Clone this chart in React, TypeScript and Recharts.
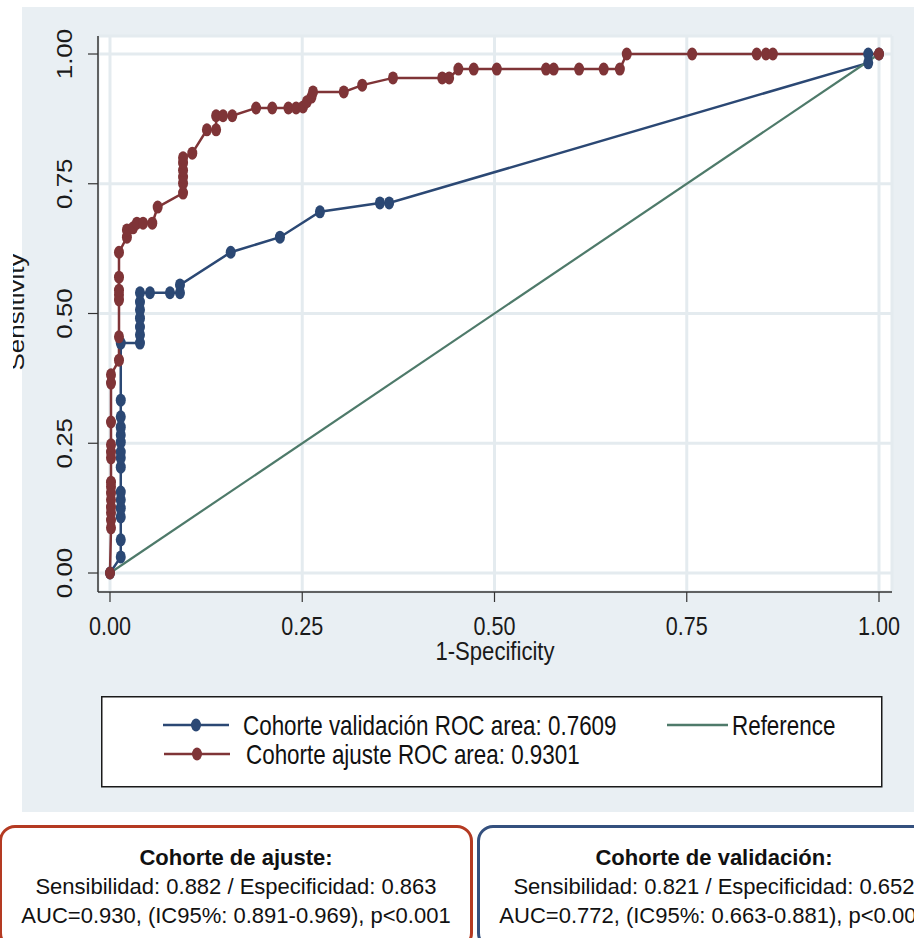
import React from 'react';
import { LineChart, Line, XAxis, YAxis, CartesianGrid, Legend } from 'recharts';

const FONT = '"Liberation Sans", Arial, Helvetica, sans-serif';
const SQUEEZE = 0.83;
const BLUE = '#2b4874';
const RED = '#7f3437';
const GREEN = '#4e7a6a';
const PANEL = '#e9eff3';
const GRID = '#e4ebef';

// ---- data (1-specificity, sensitivity) ----
const validationFpr = [
  0,
  0.014, 0.014, 0.014, 0.014, 0.014, 0.014, 0.014, 0.014, 0.014, 0.014, 0.014, 0.014, 0.014, 0.014, 0.014,
  0.039, 0.039, 0.039, 0.039, 0.039, 0.039, 0.039,
  0.052, 0.078, 0.091, 0.091,
  0.157, 0.221, 0.273, 0.351, 0.363,
  0.986, 0.986, 1,
];
const validationSens = [
  0,
  0.031, 0.064, 0.108, 0.125, 0.141, 0.156, 0.204, 0.222, 0.233, 0.252, 0.266, 0.281, 0.301, 0.333, 0.443,
  0.443, 0.459, 0.474, 0.491, 0.507, 0.522, 0.54,
  0.54, 0.54, 0.54, 0.555,
  0.618, 0.647, 0.696, 0.713, 0.713,
  0.983, 1, 1,
];

const adjustFpr = [
  0,
  0.0013, 0.0013, 0.0013, 0.0013, 0.0013, 0.0013, 0.0013, 0.0013, 0.0013, 0.0013, 0.0013, 0.0013, 0.0013, 0.0013,
  0.0117, 0.0117, 0.0117, 0.0117, 0.0117, 0.0117, 0.0117,
  0.022, 0.022, 0.03, 0.035, 0.043, 0.055, 0.062,
  0.095, 0.095, 0.095, 0.095, 0.095, 0.095,
  0.107, 0.126, 0.138, 0.138, 0.147, 0.159,
  0.19, 0.211, 0.232, 0.242,
  0.251, 0.256, 0.262, 0.264,
  0.304, 0.328,
  0.368, 0.432, 0.441,
  0.453, 0.473, 0.503, 0.567, 0.577, 0.61, 0.642, 0.663,
  0.672, 0.757, 0.841, 0.853, 0.862,
  1,
];
const adjustSens = [
  0,
  0.087, 0.102, 0.116, 0.127, 0.141, 0.154, 0.166, 0.175, 0.222, 0.233, 0.247, 0.291, 0.366, 0.382,
  0.41, 0.455, 0.526, 0.536, 0.545, 0.57, 0.618,
  0.647, 0.661, 0.665, 0.674, 0.674, 0.674, 0.705,
  0.732, 0.751, 0.763, 0.776, 0.79, 0.8,
  0.809, 0.854, 0.854, 0.881, 0.881, 0.881,
  0.896, 0.896, 0.896, 0.896,
  0.898, 0.908, 0.917, 0.927,
  0.927, 0.94,
  0.954, 0.954, 0.954,
  0.971, 0.971, 0.971, 0.971, 0.971, 0.971, 0.971, 0.971,
  1, 1, 1, 1, 1,
  1,
];

const referenceFpr = [0, 1];
const referenceSens = [0, 1];

const xTicks = [0, 0.25, 0.5, 0.75, 1];
const yTicks = [0, 0.25, 0.5, 0.75, 1];
const xDomain = [-0.0156, 1.0169];
const yDomain = [-0.0366, 1.0347];

const seriesNames = [
  'Cohorte validación ROC area: 0.7609',
  'Cohorte ajuste ROC area: 0.9301',
  'Reference',
];

const adjustBoxLines = [
  'Cohorte de ajuste:',
  'Sensibilidad: 0.882 / Especificidad: 0.863',
  'AUC=0.930, (IC95%: 0.891-0.969), p<0.001',
];
const validationBoxLines = [
  'Cohorte de validación:',
  'Sensibilidad: 0.821 / Especificidad: 0.652',
  'AUC=0.772, (IC95%: 0.663-0.881), p<0.001',
];

const toPoints = (xs: number[], ys: number[]) => xs.map((x, i) => ({ x, y: ys[i] }));
const validationData = toPoints(validationFpr, validationSens);
const adjustData = toPoints(adjustFpr, adjustSens);
const referenceData = toPoints(referenceFpr, referenceSens);

const makeDot = (color: string) => (props: any) => {
  const { cx, cy, index } = props;
  if (cx == null || cy == null) return <g key={`n${index}`} />;
  return <ellipse key={`d${index}`} cx={cx} cy={cy} rx={5} ry={6.5} fill={color} />;
};

const XTick = (props: any) => {
  const { x, y, payload } = props;
  return (
    <text
      transform={`translate(${x},${y + 31}) scale(${SQUEEZE},1)`}
      textAnchor="middle"
      fontSize={26}
      fontFamily={FONT}
      fill="#1a1a1a"
    >
      {Number(payload.value).toFixed(2)}
    </text>
  );
};

const YTick = (props: any) => {
  const { x, y, payload } = props;
  return (
    <text
      transform={`translate(${x - 14},${y}) scale(${SQUEEZE},1) rotate(-90)`}
      textAnchor="middle"
      fontSize={26}
      fontFamily={FONT}
      fill="#1a1a1a"
    >
      {Number(payload.value).toFixed(2)}
    </text>
  );
};

const XTitle = (props: any) => {
  const vb = props.viewBox || { x: 85, y: 592, width: 794, height: 60 };
  const cx = vb.x + vb.width / 2;
  return (
    <text
      transform={`translate(${cx},${vb.y + 68}) scale(0.85,1)`}
      textAnchor="middle"
      fontSize={26}
      fontFamily={FONT}
      fill="#1a1a1a"
    >
      1-Specificity
    </text>
  );
};

const YTitle = (props: any) => {
  const vb = props.viewBox || { x: 25, y: 36, width: 60, height: 556 };
  const cy = vb.y + vb.height / 2 - 2;
  return (
    <text
      transform={`translate(${vb.x - 14},${cy}) scale(${SQUEEZE},1) rotate(-90)`}
      textAnchor="middle"
      fontSize={26}
      fontFamily={FONT}
      fill="#1a1a1a"
    >
      Sensitivity
    </text>
  );
};

const legendSlots: Record<string, { x1: number; x2: number; tx: number; row: number; marker: boolean }> = {
  [seriesNames[0]]: { x1: 62, x2: 128, tx: 142, row: 0, marker: true },
  [seriesNames[1]]: { x1: 63, x2: 129, tx: 145, row: 1, marker: true },
  [seriesNames[2]]: { x1: 566, x2: 627, tx: 631, row: 0, marker: false },
};
const rowLineY = [29, 58];

const LegendContent = (props: any) => {
  const payload = props.payload || [];
  return (
    <svg width={782} height={92} style={{ display: 'block' }}>
      <rect x={0.75} y={0.75} width={780} height={90} fill="#ffffff" stroke="#1a1a1a" strokeWidth={1.5} />
      {payload.map((entry: any) => {
        const slot = legendSlots[entry.value];
        if (!slot) return null;
        const ly = rowLineY[slot.row];
        return (
          <g key={entry.value}>
            <line x1={slot.x1} x2={slot.x2} y1={ly} y2={ly} stroke={entry.color} strokeWidth={2.5} />
            {slot.marker && (
              <ellipse cx={(slot.x1 + slot.x2) / 2} cy={ly} rx={5} ry={6.5} fill={entry.color} />
            )}
            <text
              transform={`translate(${slot.tx},${ly + 10}) scale(${SQUEEZE},1)`}
              fontSize={27}
              fontFamily={FONT}
              fill="#111"
            >
              {entry.value}
            </text>
          </g>
        );
      })}
    </svg>
  );
};

const boxStyle = (left: number, color: string): React.CSSProperties => ({
  position: 'absolute',
  left,
  top: 825,
  width: 474,
  height: 124,
  boxSizing: 'border-box',
  border: `3px solid ${color}`,
  borderRadius: 16,
  background: '#ffffff',
  textAlign: 'center',
  fontFamily: FONT,
  fontSize: 22,
  lineHeight: '29px',
  paddingTop: 15,
  color: '#111',
  whiteSpace: 'nowrap',
});

const StatBox = ({ left, color, lines }: { left: number; color: string; lines: string[] }) => (
  <div style={boxStyle(left, color)}>
    {lines.map((t, i) => (
      <div key={i} style={{ fontWeight: i === 0 ? 'bold' : 'normal' }}>
        {t}
      </div>
    ))}
  </div>
);

export default function App() {
  return (
    <div
      style={{
        position: 'absolute',
        left: 0,
        top: 0,
        width: 914,
        height: 938,
        overflow: 'hidden',
        background: '#ffffff',
      }}
    >
      <div style={{ position: 'absolute', left: 22, top: 7, width: 892, height: 805, background: PANEL }} />
      <div style={{ position: 'absolute', left: 13, top: 0, width: 901, height: 812, overflow: 'hidden' }}>
        <LineChart width={901} height={812} margin={{ top: 36, right: 22, bottom: 160, left: 25 }}>
          <CartesianGrid fill="#ffffff" fillOpacity={1} stroke={GRID} strokeWidth={3} />
          <XAxis
            type="number"
            dataKey="x"
            domain={xDomain}
            ticks={xTicks}
            interval={0}
            allowDataOverflow
            height={60}
            tickSize={10}
            axisLine={{ stroke: '#333', strokeWidth: 1.5 }}
            tickLine={{ stroke: '#333', strokeWidth: 1.2 }}
            tick={(p: any) => <XTick {...p} />}
            label={{ content: (p: any) => <XTitle {...p} /> }}
          />
          <YAxis
            type="number"
            dataKey="y"
            domain={yDomain}
            ticks={yTicks}
            interval={0}
            allowDataOverflow
            width={60}
            tickSize={10}
            axisLine={{ stroke: '#333', strokeWidth: 1.5 }}
            tickLine={{ stroke: '#333', strokeWidth: 1.2 }}
            tick={(p: any) => <YTick {...p} />}
            label={{ content: (p: any) => <YTitle {...p} /> }}
          />
          <Legend
            layout="horizontal"
            verticalAlign="middle"
            align="center"
            content={(p: any) => <LegendContent {...p} />}
            wrapperStyle={{ left: 88, top: 696, width: 782, height: 92 }}
          />
          <Line
            data={validationData}
            dataKey="y"
            name={seriesNames[0]}
            type="linear"
            stroke={BLUE}
            strokeWidth={2.5}
            dot={makeDot(BLUE)}
            activeDot={false}
            isAnimationActive={false}
          />
          <Line
            data={adjustData}
            dataKey="y"
            name={seriesNames[1]}
            type="linear"
            stroke={RED}
            strokeWidth={2.5}
            dot={makeDot(RED)}
            activeDot={false}
            isAnimationActive={false}
          />
          <Line
            data={referenceData}
            dataKey="y"
            name={seriesNames[2]}
            type="linear"
            stroke={GREEN}
            strokeWidth={2.2}
            dot={false}
            activeDot={false}
            isAnimationActive={false}
          />
        </LineChart>
      </div>
      <StatBox left={-1} color="#b43a22" lines={adjustBoxLines} />
      <StatBox left={477} color="#34507e" lines={validationBoxLines} />
    </div>
  );
}
